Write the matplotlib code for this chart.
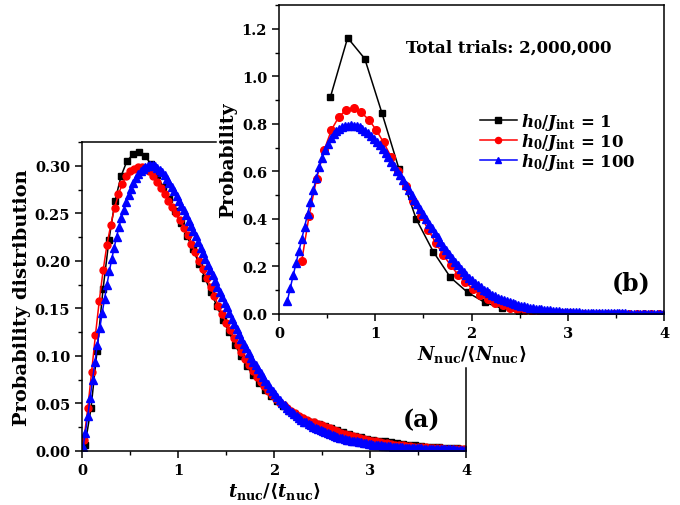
import numpy as np
import matplotlib
matplotlib.use('Agg')
import matplotlib.pyplot as plt
from matplotlib.ticker import MultipleLocator

plt.rcParams['font.family'] = ['DejaVu Serif']
plt.rcParams['font.weight'] = 'bold'
plt.rcParams['mathtext.fontset'] = 'custom'
plt.rcParams['mathtext.rm'] = 'DejaVu Serif:bold'
plt.rcParams['mathtext.bf'] = 'DejaVu Serif:bold'
plt.rcParams['mathtext.it'] = 'DejaVu Serif:bold:italic'

# (a) waiting time distribution, t_nuc/<t_nuc>
a_black = [0.006, 0.045, 0.105, 0.170, 0.222, 0.263, 0.289, 0.305, 0.312, 0.314,
           0.310, 0.302, 0.290, 0.278, 0.265, 0.252, 0.240, 0.226, 0.212, 0.197,
           0.182, 0.167, 0.152, 0.138, 0.125, 0.112, 0.100, 0.089, 0.080, 0.072,
           0.064, 0.058, 0.053, 0.047, 0.042, 0.038, 0.035, 0.032, 0.030, 0.028,
           0.026, 0.024, 0.022, 0.020, 0.018, 0.016, 0.015, 0.013, 0.012, 0.011,
           0.010, 0.009, 0.008, 0.0072, 0.0065, 0.0058, 0.0052, 0.0047, 0.0042, 0.0038,
           0.0034, 0.0031, 0.0028, 0.0025]
a_red = [0.012, 0.045, 0.083, 0.122, 0.158, 0.190, 0.217, 0.238, 0.256, 0.270,
         0.281, 0.289, 0.294, 0.297, 0.299, 0.299, 0.298, 0.295, 0.289, 0.283,
         0.277, 0.270, 0.263, 0.257, 0.250, 0.243, 0.235, 0.227, 0.218, 0.209,
         0.200, 0.191, 0.182, 0.172, 0.163, 0.153, 0.144, 0.135, 0.127, 0.119,
         0.111, 0.104, 0.097, 0.090, 0.084, 0.078, 0.073, 0.068, 0.063, 0.059,
         0.055, 0.051, 0.048, 0.045, 0.042, 0.040, 0.037, 0.035, 0.033, 0.031,
         0.030, 0.028, 0.027, 0.025, 0.024, 0.022, 0.021, 0.019, 0.018, 0.017,
         0.016, 0.015, 0.014, 0.013, 0.012, 0.011, 0.010, 0.0093, 0.0086, 0.0080,
         0.0074, 0.0068, 0.0063, 0.0058, 0.0054, 0.0050, 0.0046, 0.0043, 0.0040, 0.0037,
         0.0034, 0.0032, 0.0030, 0.0028, 0.0026, 0.0024, 0.0023, 0.0021, 0.0020, 0.0019]
a_blue = [0.004, 0.019, 0.037, 0.056, 0.075, 0.094, 0.112, 0.129, 0.145, 0.160,
          0.175, 0.189, 0.202, 0.214, 0.225, 0.236, 0.245, 0.254, 0.262, 0.269,
          0.276, 0.282, 0.287, 0.291, 0.294, 0.297, 0.299, 0.300, 0.301, 0.301,
          0.300, 0.298, 0.296, 0.293, 0.290, 0.286, 0.282, 0.278, 0.273, 0.268,
          0.263, 0.258, 0.253, 0.248, 0.242, 0.237, 0.231, 0.226, 0.220, 0.214,
          0.208, 0.202, 0.196, 0.190, 0.185, 0.179, 0.173, 0.167, 0.162, 0.156,
          0.151, 0.145, 0.139, 0.134, 0.128, 0.123, 0.118, 0.113, 0.108, 0.103,
          0.098, 0.094, 0.090, 0.086, 0.082, 0.078, 0.074, 0.070, 0.066, 0.063,
          0.060, 0.057, 0.054, 0.051, 0.048, 0.045, 0.043, 0.041, 0.039, 0.037,
          0.035, 0.033, 0.031, 0.030, 0.028, 0.027, 0.025, 0.024, 0.023, 0.022,
          0.021, 0.020, 0.019, 0.018, 0.017, 0.016, 0.015, 0.014, 0.0135, 0.013,
          0.012, 0.0115, 0.011, 0.0105, 0.010, 0.0095, 0.009, 0.0085, 0.008, 0.0076,
          0.0072, 0.0068, 0.0065, 0.0062, 0.0059, 0.0056, 0.0053, 0.0050, 0.0048, 0.0046,
          0.0044, 0.0042, 0.0040, 0.0038, 0.0036, 0.0035, 0.0033, 0.0032, 0.0030, 0.0029,
          0.0028, 0.0027, 0.0026, 0.0025, 0.0024, 0.0023, 0.0022, 0.0021, 0.0020, 0.0019,
          0.0019, 0.0018, 0.0017, 0.0017, 0.0016, 0.0015, 0.0015, 0.0014, 0.0014, 0.0013]
a_t_black = 0.03125 + 0.0625 * np.arange(len(a_black))
a_t_red = 0.02 + 0.04 * np.arange(len(a_red))
a_t_blue = 0.01 + 0.025 * np.arange(len(a_blue))

# (b) distribution of number of nuclei, N_nuc/<N_nuc>
b_black = [0.914, 1.162, 1.074, 0.846, 0.610, 0.400, 0.262, 0.154, 0.091, 0.049, 0.024, 0.007]
b_red = [0.224, 0.414, 0.569, 0.688, 0.775, 0.830, 0.859, 0.866, 0.848, 0.818,
         0.775, 0.722, 0.662, 0.600, 0.538, 0.476, 0.414, 0.355, 0.300, 0.250,
         0.205, 0.166, 0.133, 0.105, 0.082, 0.063, 0.048, 0.036, 0.027, 0.020,
         0.015, 0.011, 0.008, 0.006, 0.0045, 0.0033, 0.0025, 0.0018, 0.0013, 0.0010,
         0.0007, 0.0005, 0.0004, 0.0003, 0.0002, 0.0002, 0.0001, 0.0001, 0.0001]
b_blue = [0.056, 0.110, 0.162, 0.214, 0.265, 0.316, 0.368, 0.420, 0.472, 0.523,
          0.572, 0.617, 0.656, 0.690, 0.717, 0.739, 0.756, 0.769, 0.779, 0.786,
          0.790, 0.793, 0.794, 0.793, 0.790, 0.785, 0.778, 0.770, 0.761, 0.750,
          0.738, 0.725, 0.710, 0.694, 0.677, 0.659, 0.641, 0.622, 0.603, 0.583,
          0.563, 0.543, 0.522, 0.502, 0.481, 0.461, 0.440, 0.420, 0.400, 0.380,
          0.360, 0.341, 0.322, 0.304, 0.286, 0.269, 0.252, 0.236, 0.220, 0.205,
          0.191, 0.178, 0.165, 0.153, 0.142, 0.131, 0.121, 0.112, 0.103, 0.095,
          0.088, 0.081, 0.074, 0.068, 0.063, 0.058, 0.053, 0.049, 0.045, 0.041,
          0.038, 0.035, 0.032, 0.029, 0.027, 0.025, 0.023, 0.021, 0.019, 0.017,
          0.016, 0.015, 0.013, 0.012, 0.011, 0.010, 0.0095, 0.009, 0.008, 0.0075,
          0.007, 0.0065, 0.006, 0.0056, 0.0052, 0.0048, 0.0045, 0.0042, 0.0040, 0.0037,
          0.0035, 0.0033, 0.0031, 0.0029, 0.0027, 0.0025, 0.0024, 0.0022, 0.0021, 0.0020,
          0.0019, 0.0018, 0.0017, 0.0016, 0.0015, 0.0014, 0.0013, 0.0012, 0.0012, 0.0011,
          0.0010]
b_n_black = 0.535 + 0.178 * np.arange(len(b_black))
b_n_red = 0.236 + 0.0773 * np.arange(len(b_red))
b_n_blue = 0.087 + 0.03 * np.arange(len(b_blue))

labels = [r'$h_0/J_{\rm int}$ = 1', r'$h_0/J_{\rm int}$ = 10', r'$h_0/J_{\rm int}$ = 100']


def style_axes(ax, xmaj, ymaj):
    ax.xaxis.set_major_locator(MultipleLocator(xmaj))
    ax.xaxis.set_minor_locator(MultipleLocator(xmaj / 2))
    ax.yaxis.set_major_locator(MultipleLocator(ymaj))
    ax.yaxis.set_minor_locator(MultipleLocator(ymaj / 2))
    ax.tick_params(which='major', direction='out', length=5, width=1.1, labelsize=10.5)
    ax.tick_params(which='minor', direction='out', length=3, width=1.0)
    for s in ax.spines.values():
        s.set_linewidth(1.1)


fig = plt.figure(figsize=(6.8, 5.06), dpi=100)

# main panel (a)
ax = fig.add_axes([82 / 680, 54 / 506, 384 / 680, 309 / 506])
ax.set_zorder(0)
ax.plot(a_t_black, a_black, '-s', color='black', ms=4.5, lw=1.1)
ax.plot(a_t_red, a_red, '-o', color='red', ms=5, lw=1.1)
ax.plot(a_t_blue, a_blue, '-^', color='blue', ms=6, lw=1.1)
ax.set_xlim(0, 4)
ax.set_ylim(0, 0.325)
style_axes(ax, 1, 0.05)
ax.yaxis.set_major_formatter(matplotlib.ticker.FormatStrFormatter('%.2f'))
# inset covers part of the frame
ax.spines['top'].set_bounds(0, 1.396)
ax.spines['right'].set_bounds(0, 0.087)
ax.set_xlabel(r'$t_{\rm nuc}/\langle t_{\rm nuc}\rangle$', fontsize=13, labelpad=2)
ax.set_ylabel('Probability distribution', fontsize=14, fontweight='bold', labelpad=3)
ax.text(0.883, 0.104, '(a)', transform=ax.transAxes, fontsize=17, fontweight='bold',
        ha='center', va='center')

# inset panel (b)
ins = fig.add_axes([279 / 680, 191 / 506, 385 / 680, 309 / 506])
ins.set_zorder(2)
ins.set_facecolor('white')
ins.plot(b_n_black, b_black, '-s', color='black', ms=5, lw=1.1, label=labels[0])
ins.plot(b_n_red, b_red, '-o', color='red', ms=5.5, lw=1.1, label=labels[1])
ins.plot(b_n_blue, b_blue, '-^', color='blue', ms=6, lw=1.1, label=labels[2])
ins.set_xlim(0, 4)
ins.set_ylim(0, 1.3)
style_axes(ins, 1, 0.2)
ins.yaxis.set_major_formatter(matplotlib.ticker.FormatStrFormatter('%.1f'))
ins.set_xlabel(r'$N_{\rm nuc}/\langle N_{\rm nuc}\rangle$', fontsize=13, labelpad=2)
ins.set_ylabel('Probability', fontsize=13.5, fontweight='bold', labelpad=3)
ins.text(0.33, 0.864, 'Total trials: 2,000,000', transform=ins.transAxes,
         fontsize=12, fontweight='bold', ha='left', va='center')
ins.text(0.914, 0.104, '(b)', transform=ins.transAxes, fontsize=17, fontweight='bold',
         ha='center', va='center')
leg = ins.legend(loc='upper left', bbox_to_anchor=(0.50, 0.685), frameon=False,
                 fontsize=12, handlelength=2.2, handletextpad=0.25,
                 labelspacing=-0.05, borderpad=0, markerscale=0.8)

fig.savefig('out.png', dpi=100)
